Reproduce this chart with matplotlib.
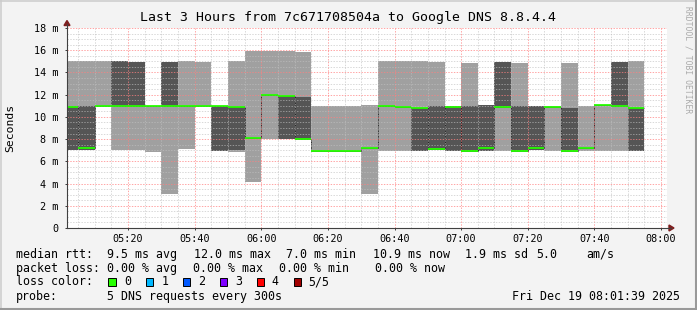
import matplotlib
matplotlib.use("Agg")
import matplotlib.pyplot as plt
from matplotlib.lines import Line2D
from matplotlib.patches import Polygon, Rectangle

W, H, DPI = 697, 310, 100

# ---------------- data (values in ms) ----------------
times = ["05:00", "05:05", "05:10", "05:15", "05:20", "05:25", "05:30", "05:35",
         "05:40", "05:45", "05:50", "05:55", "06:00", "06:05", "06:10", "06:15",
         "06:20", "06:25", "06:30", "06:35", "06:40", "06:45", "06:50", "06:55",
         "07:00", "07:05", "07:10", "07:15", "07:20", "07:25", "07:30", "07:35",
         "07:40", "07:45", "07:50"]
ping_min = [7.0, 7.0, 11.0, 7.0, 7.0, 6.87, 3.06, 7.15,
            10.95, 6.95, 6.87, 4.1, 8.0, 8.0, 7.98, 6.96,
            6.96, 6.96, 3.06, 6.96, 6.96, 6.96, 7.0, 6.96,
            6.96, 6.96, 6.96, 6.96, 7.0, 6.96, 6.96, 6.96,
            6.96, 6.96, 6.96]
ping_lo = [7.0, 7.0, 11.0, 11.0, 11.0, 11.0, 11.0, 11.0,
           10.95, 6.95, 7.0, 8.13, 12.0, 8.0, 7.98, 6.96,
           6.96, 6.96, 7.17, 11.0, 10.92, 6.96, 7.0, 6.96,
           6.96, 6.96, 10.85, 6.96, 7.0, 10.85, 6.96, 7.17,
           11.05, 10.95, 6.96]
median = [10.85, 7.2, 11.0, 11.0, 11.0, 11.0, 11.0, 11.0,
          10.95, 10.95, 10.86, 8.13, 12.0, 11.85, 7.98, 6.96,
          6.96, 6.96, 7.17, 11.0, 10.92, 10.83, 7.15, 10.85,
          6.96, 7.17, 10.85, 6.96, 7.17, 10.85, 6.96, 7.17,
          11.05, 10.95, 10.83]
ping_hi = [11.0, 11.0, 11.0, 15.0, 14.9, 11.0, 14.9, 11.0,
           10.95, 11.0, 10.86, 8.13, 12.0, 11.85, 11.76, 6.96,
           6.96, 6.96, 7.17, 11.0, 10.92, 10.83, 11.0, 11.0,
           11.0, 11.07, 14.9, 11.0, 11.0, 10.85, 10.8, 7.17,
           11.05, 14.9, 10.83]
ping_max = [15.0, 15.0, 15.0, 15.0, 14.9, 11.0, 14.9, 15.0,
            14.9, 11.0, 15.05, 15.93, 15.93, 15.93, 15.84, 11.0,
            11.0, 11.0, 11.07, 15.0, 15.0, 15.0, 14.9, 11.0,
            14.88, 11.07, 14.9, 14.88, 11.0, 10.95, 14.88, 11.0,
            11.1, 14.9, 15.0]

x_tick_labels = ["05:20", "05:40", "06:00", "06:20", "06:40", "07:00", "07:20", "07:40", "08:00"]
y_tick_values = [0, 2, 4, 6, 8, 10, 12, 14, 16, 18]
y_tick_labels = ["0", "2 m", "4 m", "6 m", "8 m", "10 m", "12 m", "14 m", "16 m", "18 m"]

title = "Last 3 Hours from 7c671708504a to Google DNS 8.8.4.4"
rtt_parts = ["median rtt:", "9.5 ms avg", "12.0 ms max", "7.0 ms min", "10.9 ms now",
             "1.9 ms sd", "5.0", "am/s"]
loss_parts = ["packet loss:", "0.00 % avg", "0.00 % max", "0.00 % min", "0.00 % now"]
loss_labels = ["0", "1", "2", "3", "4", "5/5"]
loss_colors = ["#26ff00", "#00b8ff", "#0059ff", "#7e00ff", "#ff0000", "#a10000"]
probe_text = "5 DNS requests every 300s"
date_text = "Fri Dec 19 08:01:39 2025"

STEP = 5.0


def to_min(s):
    h, m = s.split(":")
    return (int(h) - 5) * 60 + int(m)


x0 = [to_min(t) for t in times]
edges = x0 + [x0[-1] + STEP]
xt = [to_min(t) for t in x_tick_labels]
x_start = 1 + 39 / 60.0
x_end = x_start + 180

MONO = "DejaVu Sans Mono"
plt.rcParams["font.family"] = MONO

fig = plt.figure(figsize=(W / DPI, H / DPI), dpi=DPI, facecolor="#f3f3f3")


def fx(px):
    return px / W


def fy(py):
    return 1 - py / H


L, R, T, B = 67, 666.5, 28, 228
ax = fig.add_axes([fx(L), fy(B), (R - L) / W, (B - T) / H])
ax.set_facecolor("white")

# smoke
ax.bar(x0, [a - b for a, b in zip(ping_max, ping_min)], bottom=ping_min, width=STEP,
       align="edge", color="#a0a0a0", linewidth=0, zorder=1)
ax.bar(x0, [a - b for a, b in zip(ping_hi, ping_lo)], bottom=ping_lo, width=STEP,
       align="edge", color="#555555", linewidth=0, zorder=1.1)
# median connectors + median
ax.stairs(median, edges, baseline=None, color="#202020", linewidth=0.6, zorder=1.5)
ax.hlines(median, x0, [a + STEP for a in x0], color=loss_colors[0], linewidth=1.3, zorder=3)

# grid
ax.set_xticks(xt)
ax.set_xticklabels(x_tick_labels)
ax.set_xticks([m for m in range(0, 185, 5)], minor=True)
ax.set_yticks(y_tick_values)
ax.set_yticklabels(y_tick_labels)
ax.set_yticks([v * 0.5 for v in range(0, 37)], minor=True)
ax.set_axisbelow(False)
ax.grid(which="minor", color="#c0c0c0", alpha=0.6, linestyle=(0, (1.4, 1.4)), linewidth=0.72)
ax.grid(which="major", color="#ff8080", alpha=0.7, linestyle=(0, (1.4, 1.4)), linewidth=0.72)
ax.tick_params(which="minor", length=0)
ax.tick_params(which="major", length=1.5, width=0.72, color="#404040",
               labelsize=7.3, labelcolor="#000000", pad=4.5)
ax.tick_params(axis="x", which="major", pad=2.5)
for s in ax.spines.values():
    s.set_visible(False)
ax.set_xlim(x_start, x_end)
ax.set_ylim(0, 18)

# axes lines with arrows
axis_col = "#404040"
arrow_col = "#7f1f1f"
fig.add_artist(Line2D([fx(L), fx(671)], [fy(B), fy(B)], color=axis_col, linewidth=0.8))
fig.add_artist(Line2D([fx(L), fx(L)], [fy(B), fy(24)], color=axis_col, linewidth=0.8))
fig.add_artist(Polygon([[fx(674), fy(B)], [fx(669), fy(B - 3)], [fx(669), fy(B + 3)]],
                       closed=True, color=arrow_col, transform=fig.transFigure))
fig.add_artist(Polygon([[fx(L), fy(20.5)], [fx(L - 3), fy(25.5)], [fx(L + 3), fy(25.5)]],
                       closed=True, color=arrow_col, transform=fig.transFigure))

# title, labels
fig.text(fx(348), fy(18), title, ha="center", va="center", fontsize=9.5, family=MONO)
fig.text(fx(10), fy(128), "Seconds", ha="center", va="center", rotation=90,
         fontsize=8.2, family=MONO)
fig.text(fx(688), fy(60), "RRDTOOL / TOBI OETIKER", ha="center", va="center",
         rotation=-90, fontsize=5.8, family=MONO, color="#aaaaaa")

# legend
LEG = 8.4
rtt_x = [16, 107.3, 194, 286, 373, 465.3, 536.3, 586.3]
loss_x = [16, 107.3, 193.3, 279.3, 375.3]
for t, x in zip(rtt_parts, rtt_x):
    fig.text(fx(x), fy(254.3), t, ha="left", va="center", fontsize=LEG, family=MONO)
for t, x in zip(loss_parts, loss_x):
    fig.text(fx(x), fy(268.8), t, ha="left", va="center", fontsize=LEG, family=MONO)
fig.text(fx(16), fy(281.7), "loss color:", ha="left", va="center", fontsize=LEG, family=MONO)
box_x = [108.3, 145.7, 182.7, 219.7, 256.7, 293.7]
lab_x = [124, 161.3, 198.3, 235.3, 271.7, 308.7]
for bx, lx, lab, col in zip(box_x, lab_x, loss_labels, loss_colors):
    fig.add_artist(Rectangle((fx(bx), fy(285.7)), 7.3 / W, 8 / H, transform=fig.transFigure,
                             facecolor=col, edgecolor="#000000", linewidth=0.7))
    fig.text(fx(lx), fy(281.7), lab, ha="left", va="center", fontsize=LEG, family=MONO)
fig.text(fx(16), fy(296.7), "probe:", ha="left", va="center", fontsize=LEG, family=MONO)
fig.text(fx(107.3), fy(296.7), probe_text, ha="left", va="center", fontsize=LEG, family=MONO)
fig.text(fx(680.3), fy(296.7), date_text, ha="right", va="center", fontsize=LEG, family=MONO)

# frame
fig.add_artist(Line2D([0, 1], [fy(0.75), fy(0.75)], color="#cbcbcb", linewidth=1.1))
fig.add_artist(Line2D([fx(0.75), fx(0.75)], [0, 1], color="#cbcbcb", linewidth=1.1))
fig.add_artist(Line2D([0, 1], [fy(H - 1), fy(H - 1)], color="#999999", linewidth=1.5))
fig.add_artist(Line2D([fx(W - 1), fx(W - 1)], [0, 1], color="#999999", linewidth=1.5))

fig.savefig("out.png", dpi=DPI, facecolor=fig.get_facecolor())
